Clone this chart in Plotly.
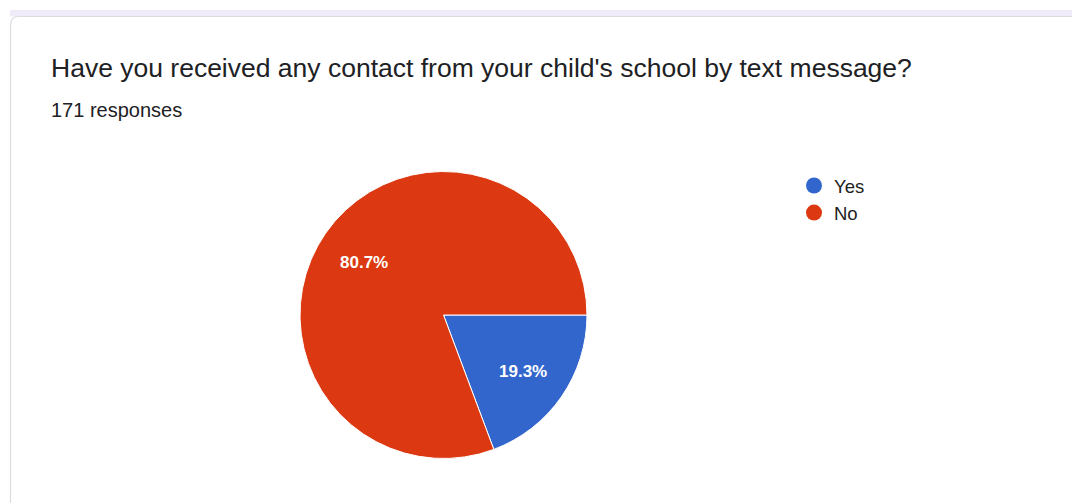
import math
import plotly.graph_objects as go

W, H = 1072, 503

categories = ["Yes", "No"]
counts = [33, 138]
colors = ["#3366cc", "#dc3912"]
title_text = "Have you received any contact from your child's school by text message?"
subtitle_text = "171 responses"

def px(x):
    return x / W

def py(y):
    return 1 - y / H

# pie placement (pixels)
CX, CY, R = 443.5, 315.0, 143.5
START_DEG = 0.0  # slices start at 3 o'clock and run clockwise
LABEL_FRAC = 0.67

fig = go.Figure()

fig.add_trace(go.Pie(
    labels=categories,
    values=counts,
    sort=False,
    direction="clockwise",
    rotation=90,
    marker=dict(colors=colors, line=dict(color="white", width=1)),
    textinfo="none",
    showlegend=False,
    hoverinfo="label+percent",
    domain=dict(x=[px(CX - R), px(CX + R)], y=[py(CY + R), py(CY - R)]),
))

for cat, col in zip(categories, colors):
    fig.add_trace(go.Scatter(
        x=[None], y=[None], mode="markers", name=cat,
        marker=dict(symbol="circle", size=16, color=col),
        showlegend=True,
    ))

# percentage labels placed along each slice's bisector
total = sum(counts)
annotations = []
acc = 0.0
for v in counts:
    mid = (acc + v / 2) / total * 2 * math.pi + math.radians(START_DEG)
    acc += v
    lx = CX + LABEL_FRAC * R * math.cos(mid)
    ly = CY + LABEL_FRAC * R * math.sin(mid) + 2
    annotations.append(dict(
        text=f"<b>{v / total * 100:.1f}%</b>", x=px(lx), y=py(ly), xref="paper", yref="paper",
        xanchor="center", yanchor="middle", showarrow=False,
        font=dict(size=17, color="white", family="Arial"),
    ))

annotations += [
    dict(text=title_text, x=px(49), y=py(68), xref="paper", yref="paper",
         xanchor="left", yanchor="middle", showarrow=False,
         font=dict(size=26.5, color="#202124", family="Arial")),
    dict(text=subtitle_text, x=px(49), y=py(110), xref="paper", yref="paper",
         xanchor="left", yanchor="middle", showarrow=False,
         font=dict(size=20, color="#202124", family="Arial")),
]

# card background
shapes = [
    dict(type="rect", xref="paper", yref="paper", x0=px(10), x1=px(1072), y0=py(16.5), y1=py(10),
         fillcolor="#f0ebf8", line=dict(width=0), layer="below"),
    dict(type="path", xref="paper", yref="paper",
         path=(f"M {px(10.5)} {py(510)} L {px(10.5)} {py(25)} "
               f"Q {px(10.5)} {py(16.5)} {px(19)} {py(16.5)} "
               f"L {px(1080)} {py(16.5)} L {px(1080)} {py(510)} Z"),
         fillcolor="white", line=dict(color="#dadce0", width=1.2), layer="below"),
]

fig.update_layout(
    width=W, height=H,
    margin=dict(l=0, r=0, t=0, b=0),
    paper_bgcolor="white",
    plot_bgcolor="rgba(0,0,0,0)",
    xaxis=dict(visible=False),
    yaxis=dict(visible=False),
    shapes=shapes,
    showlegend=True,
    legend=dict(
        x=px(794), y=py(167), xanchor="left", yanchor="top",
        font=dict(size=18.5, color="#222222", family="Arial"),
        bgcolor="rgba(0,0,0,0)",
    ),
    annotations=annotations,
)

fig.write_html("out.html")
